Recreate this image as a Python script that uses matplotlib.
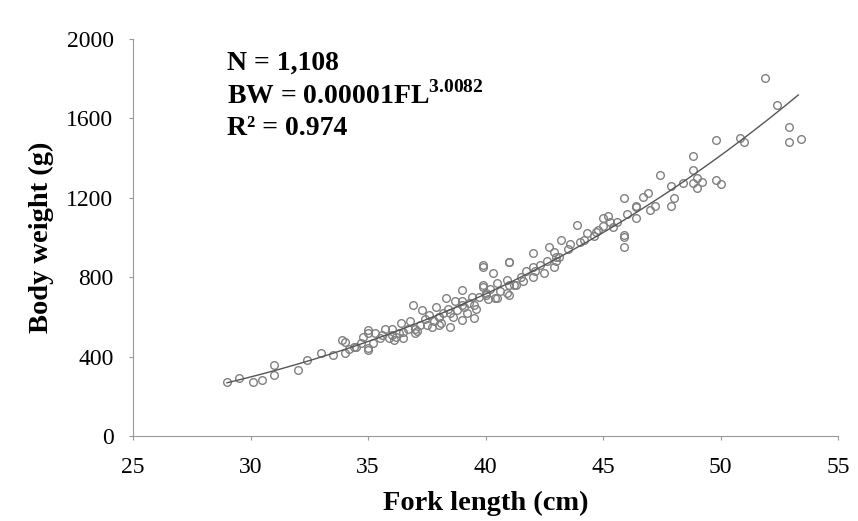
import matplotlib.pyplot as plt
import numpy as np

plt.rcParams['font.family'] = 'Liberation Serif'
plt.rcParams['mathtext.fontset'] = 'custom'
plt.rcParams['mathtext.rm'] = 'Liberation Serif'
plt.rcParams['mathtext.bf'] = 'Liberation Serif:bold'

# fork length (cm) and body weight (g)
fork_length = [29.0, 29.5, 30.1, 30.5, 31.0, 31.0, 32.0, 32.4, 33.0, 33.5,
               34.0, 34.0, 34.5, 35.0, 35.0, 35.5, 36.1, 36.5, 36.4, 33.9,
               34.4, 35.0, 35.0, 35.9, 36.5, 36.9, 37.3, 37.6, 37.9, 38.3,
               38.5, 38.8, 39.0, 39.2, 39.5, 39.9, 39.9, 40.3, 40.4, 40.9,
               41.0, 39.0, 39.3, 39.9, 39.9, 40.5, 40.5, 40.9, 41.0, 41.0,
               42.0, 42.0, 42.7, 42.9, 42.9, 43.2, 43.9, 44.3, 45.0, 45.4,
               45.9, 45.9, 45.9, 46.4, 46.4, 46.7, 45.9, 46.4, 46.9, 47.4,
               47.9, 47.9, 48.4, 48.8, 48.8, 48.8, 49.8, 49.8, 50.8, 51.9,
               52.4, 52.9, 52.9, 53.4, 36.0, 36.8, 37.0, 37.5, 38.0, 38.0,
               38.5, 38.7, 39.5, 39.7, 40.2, 41.5, 41.7, 42.3, 43.0, 43.5,
               44.0, 44.6, 45.0, 45.3, 46.0, 47.0, 48.0, 49.0, 49.0, 50.0,
               51.0, 34.8, 35.3, 35.7, 36.3, 37.2, 37.8, 38.2, 39.0, 40.0,
               41.3, 42.5, 44.8, 45.6, 47.2, 49.2, 35.2, 35.6, 36.2, 36.7,
               37.1, 37.4, 37.7, 38.1, 38.4, 38.6, 39.1, 39.4, 39.6, 40.1,
               40.6, 41.2, 41.6, 42.1, 42.6, 43.1, 43.6, 44.2, 44.7, 45.2,
               34.2, 34.7, 36.0, 37.0, 38.0, 39.0, 40.0, 41.0, 42.0, 43.0]
body_weight = [272, 292, 272, 282, 307, 358, 333, 383, 418, 408,
               474, 418, 449, 519, 433, 494, 484, 524, 569, 484,
               449, 534, 443, 494, 494, 660, 635, 610, 650, 695,
               549, 635, 585, 620, 595, 862, 761, 821, 695, 720,
               877, 736, 670, 852, 751, 771, 695, 786, 711, 877,
               922, 852, 953, 927, 852, 988, 1063, 1023, 1099, 1053,
               1200, 1003, 953, 1154, 1099, 1205, 1013, 1159, 1225, 1315,
               1260, 1159, 1275, 1411, 1340, 1275, 1492, 1290, 1502, 1804,
               1668, 1557, 1482, 1495, 540, 580, 520, 560, 560, 600,
               620, 680, 660, 700, 740, 800, 830, 860, 900, 940,
               980, 1010, 1060, 1080, 1120, 1140, 1200, 1250, 1300, 1270,
               1480, 500, 520, 540, 520, 560, 580, 620, 660, 710,
               760, 820, 1040, 1080, 1160, 1280, 470, 510, 500, 540,
               530, 590, 550, 570, 640, 600, 650, 700, 640, 690,
               730, 760, 780, 830, 880, 900, 970, 990, 1030, 1110,
               440, 470, 510, 540, 600, 680, 720, 760, 800, 880]

n_label = 'N = 1,108'
eq_label = r'BW = 0.00001FL$^{\mathbf{3.0082}}$'
r2_label = 'R² = 0.974'

x = np.array(fork_length)
y = np.array(body_weight)
b, log_a = np.polyfit(np.log(x), np.log(y), 1)
xf = np.linspace(29, 53.3, 200)
yf = np.exp(log_a) * xf ** b

fig = plt.figure(figsize=(8.58, 5.21), dpi=100)
ax = fig.add_axes([0.155, 0.163, 0.822, 0.762])

ax.plot(x, y, 'o', markerfacecolor='none', markeredgecolor='#808080',
        markersize=5.5, markeredgewidth=1.0)
ax.plot(xf, yf, color='#555555', linewidth=1.0)

ax.set_xlim(25, 55)
ax.set_ylim(0, 2000)
ax.set_xticks(range(25, 56, 5))
ax.set_yticks(range(0, 2001, 400))
ax.spines['top'].set_visible(False)
ax.spines['right'].set_visible(False)
ax.spines['left'].set_color('#999999')
ax.spines['bottom'].set_color('#999999')
ax.tick_params(axis='both', labelsize=17, length=3, color='#999999')
ax.tick_params(axis='x', pad=12)
ax.tick_params(axis='y', pad=11)

ax.set_xlabel('Fork length (cm)', fontsize=20.5, fontweight='bold', labelpad=9)
ax.set_ylabel('Body weight (g)', fontsize=20.5, fontweight='bold', labelpad=9)

ax.text(29.0, 1880, n_label, fontsize=20, fontweight='bold', va='center')
ax.text(29.0, 1715, eq_label, fontsize=20, fontweight='bold', va='center')
ax.text(29.0, 1552, r2_label, fontsize=20, fontweight='bold', va='center')

fig.savefig('out.png')
